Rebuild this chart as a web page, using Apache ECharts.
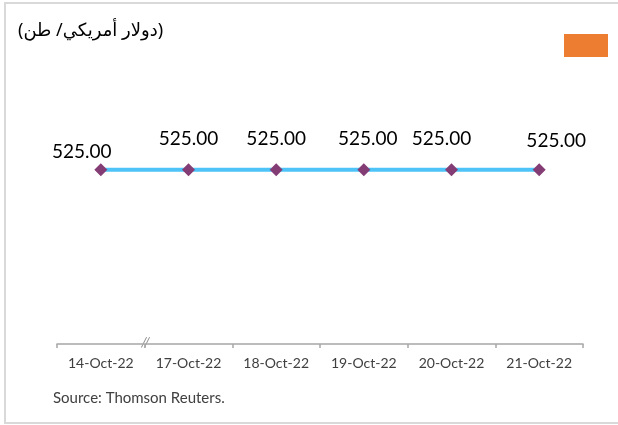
<!DOCTYPE html>
<html>
<head>
<meta charset="utf-8">
<script src="https://cdn.jsdelivr.net/npm/echarts@6/dist/echarts.min.js"></script>
<style>
html,body{margin:0;padding:0;background:#fff;}
#c{width:618px;height:425px;}
</style>
</head>
<body>
<div id="c"></div>
<script>
const categories = ['14-Oct-22','17-Oct-22','18-Oct-22','19-Oct-22','20-Oct-22','21-Oct-22'];
const prices = [525.00, 525.00, 525.00, 525.00, 525.00, 525.00];
const unitTitle = '(دولار أمريكي/ طن)';
const sourceText = 'Source: Thomson Reuters.';

const FONT = 'Lato, "Noto Sans", sans-serif';
const labelOffsets = [[-19, 10], [0, -3], [0, -3], [4, -3], [-10, -3], [17, -1]];

const chart = echarts.init(document.getElementById('c'), null, {renderer: 'canvas'});
chart.setOption({
  animation: false,
  backgroundColor: '#fff',
  grid: {left: 57, right: 35, top: 12, bottom: 81},
  xAxis: {
    type: 'category',
    data: categories,
    boundaryGap: true,
    axisLine: {show: true, lineStyle: {color: '#A6A6A6', width: 1.5}},
    axisTick: {show: true, alignWithLabel: false, length: 4, lineStyle: {color: '#A6A6A6', width: 1.5}},
    axisLabel: {color: '#404040', fontSize: 14, fontFamily: FONT, margin: 12}
  },
  yAxis: {
    type: 'value', min: 0, max: 1000, show: false,
    splitLine: {show: false}
  },
  series: [{
    type: 'line',
    data: prices.map((v, i) => ({value: v, label: {offset: labelOffsets[i]}})),
    lineStyle: {color: '#4DC3F7', width: 4},
    symbol: 'diamond',
    symbolSize: 13,
    itemStyle: {color: '#843C74'},
    label: {
      show: true, position: 'top', distance: 12,
      color: '#000', fontSize: 19, fontFamily: FONT,
      formatter: p => p.value.toFixed(2)
    }
  }],
  graphic: [
    {type: 'rect', shape: {x: 5, y: 3, width: 630, height: 420},
     style: {fill: 'none', stroke: '#D9D9D9', lineWidth: 2}, silent: true},
    {type: 'text', left: 18, top: 22,
     style: {text: unitTitle, fill: '#000', fontSize: 18, fontFamily: '"Noto Sans", "DejaVu Sans", sans-serif'}},
    {type: 'rect', shape: {x: 564, y: 34, width: 44, height: 23},
     style: {fill: '#ED7D31'}},
    {type: 'text', left: 141, top: 335,
     style: {text: '//', fill: '#8C8C8C', fontSize: 14, fontStyle: 'italic', fontFamily: FONT}},
    {type: 'text', left: 53, top: 391,
     style: {text: sourceText, fill: '#404040', fontSize: 15, fontFamily: FONT}}
  ]
});
</script>
</body>
</html>
